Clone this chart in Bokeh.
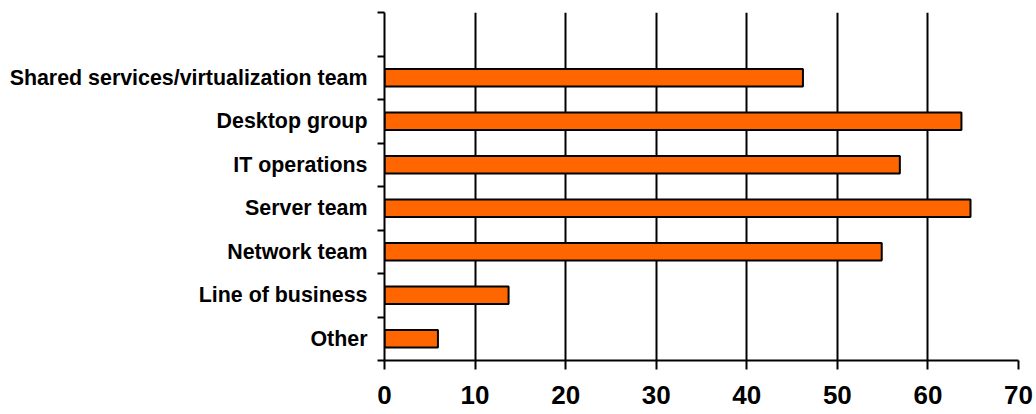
from bokeh.plotting import figure
from bokeh.models import FixedTicker, Range1d, ColumnDataSource
from bokeh.embed import file_html
from bokeh.resources import INLINE

categories = ["Other", "Line of business", "Network team", "Server team",
              "IT operations", "Desktop group", "Shared services/virtualization team"]
values = [5.9, 13.7, 54.9, 64.7, 56.9, 63.7, 46.2]
x_ticks = [0, 10, 20, 30, 40, 50, 60, 70]

centers = [i + 0.5 for i in range(len(categories))]
n_slots = len(categories) + 1

src = ColumnDataSource(dict(y=centers, right=values))

p = figure(width=1036, height=414, output_backend="svg", toolbar_location=None,
           x_range=Range1d(0, 70), y_range=Range1d(0, n_slots),
           min_border_left=384, min_border_right=18, min_border_top=12, min_border_bottom=54)
p.outline_line_color = None
p.background_fill_color = "white"

p.hbar(y="y", left=0, right="right", height=0.4, source=src,
       fill_color="#FF6600", line_color="black", line_width=2)

p.ygrid.grid_line_color = None
p.xgrid.grid_line_color = "black"
p.xgrid.grid_line_width = 2
p.xgrid.ticker = FixedTicker(ticks=x_ticks)

xa = p.xaxis[0]
xa.ticker = FixedTicker(ticks=x_ticks)
xa.axis_line_color = "black"
xa.axis_line_width = 2
xa.major_tick_line_color = "black"
xa.major_tick_line_width = 2
xa.major_tick_out = 9
xa.major_tick_in = 0
xa.minor_tick_line_color = None
xa.major_label_text_font = "Liberation Sans"
xa.major_label_text_font_style = "bold"
xa.major_label_text_font_size = "26px"
xa.major_label_text_color = "black"
xa.major_label_standoff = 16

ya = p.yaxis[0]
ya.ticker = FixedTicker(ticks=centers, minor_ticks=list(range(n_slots + 1)))
ya.major_label_overrides = {c: lab for c, lab in zip(centers, categories)}
ya.axis_line_color = "black"
ya.axis_line_width = 2
ya.major_tick_line_color = None
ya.major_tick_out = 0
ya.major_tick_in = 0
ya.minor_tick_line_color = "black"
ya.minor_tick_line_width = 2
ya.minor_tick_out = 7
ya.minor_tick_in = 0
ya.major_label_text_font = "Liberation Sans"
ya.major_label_text_font_style = "bold"
ya.major_label_text_font_size = "21.4px"
ya.major_label_text_color = "black"
ya.major_label_standoff = 10

open("out.html", "w").write(file_html(p, INLINE))
